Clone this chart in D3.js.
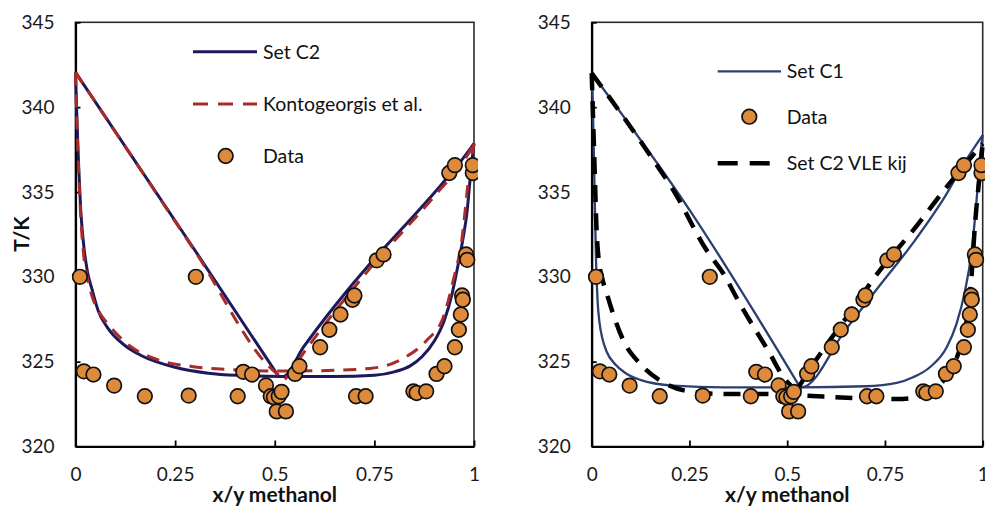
<!DOCTYPE html>
<html>
<head>
<meta charset="utf-8">
<script src="https://cdn.jsdelivr.net/npm/d3@7"></script>
<style>
  html, body { margin: 0; padding: 0; background: #fff; }
  svg { display: block; font-family: Lato, "Open Sans", sans-serif; }
</style>
</head>
<body>
<svg id="chart" width="985" height="506"></svg>
<script>
// ---------- data ----------
const xTicks = [0, 0.25, 0.5, 0.75, 1];
const xTickLabels = ["0", "0.25", "0.5", "0.75", "1"];
const yTicks = [320, 325, 330, 335, 340, 345];
const yTickLabels = ["320", "325", "330", "335", "340", "345"];
const xTitle = "x/y methanol";
const yTitle = "T/K";

// experimental data [x or y methanol, T/K]
const expData = [
  [0.011,330.0],[0.021,324.43],[0.045,324.24],[0.097,323.59],[0.174,322.96],[0.284,323.0],
  [0.302,330.0],[0.407,322.96],[0.421,324.4],[0.443,324.24],[0.478,323.6],[0.490,322.96],
  [0.498,322.9],[0.505,322.07],[0.510,322.96],[0.517,323.22],[0.528,322.07],[0.551,324.28],
  [0.562,324.73],[0.614,325.85],[0.637,326.88],[0.665,327.78],[0.695,328.65],[0.700,328.9],
  [0.704,322.96],[0.728,322.96],[0.756,330.97],[0.773,331.32],[0.848,323.25],[0.856,323.15],
  [0.880,323.25],[0.906,324.28],[0.926,324.73],[0.938,336.12],[0.952,336.58],[0.952,325.85],
  [0.962,326.88],[0.967,327.78],[0.970,328.9],[0.972,328.65],[0.980,331.32],[0.983,331.0],
  [0.997,336.12],[0.997,336.58]
];

// Left panel: Set C2
const setC2Lower = [
  [0,342.05],[0.004,339.0],[0.008,336.5],[0.013,334.0],[0.02,332.0],[0.03,330.3],[0.041,329.3],
  [0.057,328.0],[0.082,326.95],[0.124,325.95],[0.166,325.35],[0.25,324.67],[0.333,324.32],
  [0.417,324.18],[0.517,324.12],[0.65,324.12],[0.75,324.2],[0.80,324.4],[0.84,324.75],
  [0.87,325.3],[0.90,326.2],[0.925,327.4],[0.945,329.0],[0.96,330.7],[0.972,332.2],
  [0.982,333.72],[0.990,335.69],[0.998,337.46],[1,337.85]
];
const setC2Vapor = [
  [0,342.05],[0.30,331.55],[0.51,324.12],[0.521,324.12],[0.572,325.85],[0.655,328.41],
  [0.739,330.77],[0.823,332.93],[0.906,335.1],[0.982,337.27],[1,337.85]
];
// Left panel: Kontogeorgis et al.
const kontoLower = [
  [0,342.05],[0.004,338.8],[0.008,336.2],[0.013,333.6],[0.02,331.4],[0.03,329.9],[0.041,328.9],
  [0.06,327.9],[0.082,327.2],[0.141,325.85],[0.208,325.1],[0.292,324.72],[0.375,324.55],
  [0.5,324.45],[0.613,324.47],[0.739,324.6],[0.823,325.2],[0.881,326.25],[0.923,327.62],
  [0.948,329.79],[0.969,332.1],[0.988,336.08],[1,337.85]
];
const kontoVapor = [
  [0,342.05],[0.30,331.5],[0.5,324.4],[0.526,323.95],[0.572,325.5],[0.739,330.5],
  [0.906,334.9],[0.982,337.1],[1,337.85]
];

// Right panel: Set C1
const setC1Lower = [
  [0,342.0],[0.003,340.0],[0.007,335.5],[0.011,331.0],[0.015,328.6],[0.02,327.3],[0.027,326.4],
  [0.038,325.6],[0.06,324.85],[0.085,324.35],[0.124,323.93],[0.209,323.59],[0.337,323.49],
  [0.533,323.49],[0.7,323.55],[0.78,323.75],[0.822,324.08],[0.865,324.67],[0.908,325.85],
  [0.933,327.23],[0.955,329.2],[0.972,331.56],[0.985,334.7],[0.993,337.0],[1,338.35]
];
const setC1Vapor = [
  [0,342.0],[0.25,333.95],[0.533,323.49],
  [0.537,323.49],[0.65,326.9],[0.737,329.5],[0.822,332.0],[0.908,334.9],[0.95,336.6],[1,338.35]
];
// Right panel: Set C2 VLE kij
const setC2kijLower = [
  [0,342.0],[0.004,339.0],[0.008,336.0],[0.012,333.0],[0.018,331.0],[0.026,330.0],[0.04,328.9],
  [0.055,327.8],[0.081,326.25],[0.124,324.87],[0.183,323.78],[0.251,323.24],[0.337,323.1],
  [0.439,323.1],[0.5,323.05],[0.592,322.94],[0.78,322.8],[0.831,322.9],[0.87,323.2],
  [0.9,323.9],[0.925,324.8],[0.945,326.0],[0.96,327.6],[0.972,330.2],[0.98,333.0],
  [0.99,335.5],[1,337.8]
];
const setC2kijVapor = [
  [0,342.0],[0.081,339.43],[0.158,336.87],[0.209,335.1],[0.294,331.56],[0.337,330.18],
  [0.379,328.41],[0.456,325.46],[0.49,324.1],[0.524,323.3],[0.567,324.87],[0.652,327.62],
  [0.737,330.38],[0.822,332.74],[0.908,335.3],[0.993,337.66],[1,337.85]
];

const leftLegend = ["Set C2", "Kontogeorgis et al.", "Data"];
const rightLegend = ["Set C1", "Data", "Set C2 VLE kij"];

// ---------- drawing ----------
const svg = d3.select("#chart");
const yScale = d3.scaleLinear().domain([320, 345]).range([446.5, 22.3]);
const orange = "#DD8A3B";

// split a vapour curve at its minimum (azeotrope) so the kink stays sharp
function splitAtMin(arr) {
  let iMin = 0;
  arr.forEach((d, i) => { if (d[1] < arr[iMin][1]) iMin = i; });
  return [arr.slice(0, iMin + 1), arr.slice(iMin)];
}

function panel(x0, x1, cfg) {
  const xScale = d3.scaleLinear().domain([0, 1]).range([x0, x1]);
  const g = svg.append("g");
  const clipId = "clip" + Math.round(x0);
  svg.append("clipPath").attr("id", clipId).append("rect")
    .attr("x", x0 - 4).attr("y", 10).attr("width", x1 - x0 + 8).attr("height", 446.5 - 6);

  // frame
  g.append("rect").attr("x", x0).attr("y", yScale(345)).attr("width", x1 - x0)
    .attr("height", yScale(320) - yScale(345)).attr("fill", "none")
    .attr("stroke", "#2a2a2a").attr("stroke-width", 1.6);

  // axes
  const xAxis = d3.axisBottom(xScale).tickValues(xTicks)
    .tickFormat((d, i) => xTickLabels[i]).tickSizeInner(-6).tickSizeOuter(0).tickPadding(21);
  const yAxis = d3.axisLeft(yScale).tickValues(yTicks)
    .tickFormat((d, i) => yTickLabels[i]).tickSizeInner(-5).tickSizeOuter(0).tickPadding(21);
  const gx = g.append("g").attr("transform", `translate(0,${yScale(320)})`).call(xAxis);
  const gy = g.append("g").attr("transform", `translate(${x0},0)`).call(yAxis);
  [gx, gy].forEach(a => {
    a.select(".domain").attr("stroke", "#000").attr("stroke-width", 2.2);
    a.selectAll(".tick line").attr("stroke", "#000").attr("stroke-width", 1.8);
    a.selectAll(".tick text").attr("fill", "#1a1a1a").style("font-size", "19px")
      .style("font-family", "Lato, 'Open Sans', sans-serif");
  });

  // x title
  g.append("text").attr("x", (x0 + x1) / 2).attr("y", 502).attr("text-anchor", "middle")
    .style("font-size", "21px").style("font-weight", "bold").attr("fill", "#111").text(xTitle);

  const lineSmooth = d3.line().x(d => xScale(d[0])).y(d => yScale(d[1])).curve(d3.curveMonotoneX);
  const lg = g.append("g").attr("clip-path", `url(#${clipId})`);
  cfg.series.forEach(s => {
    [s.lower, ...splitAtMin(s.vapor)].forEach(arr => {
      lg.append("path").attr("d", lineSmooth(arr)).attr("fill", "none")
        .attr("stroke", s.color).attr("stroke-width", s.width)
        .attr("stroke-dasharray", s.dash || null).attr("stroke-linejoin", "round");
    });
  });
  // markers
  lg.selectAll("circle.pt").data(expData).enter().append("circle").attr("class", "pt")
    .attr("cx", d => xScale(d[0])).attr("cy", d => yScale(d[1])).attr("r", 7.3)
    .attr("fill", orange).attr("stroke", "#111").attr("stroke-width", 1.7);

  // legend
  cfg.legend.forEach(item => {
    if (item.type === "line") {
      g.append("line").attr("x1", item.lx0).attr("x2", item.lx1).attr("y1", item.y).attr("y2", item.y)
        .attr("stroke", item.color).attr("stroke-width", item.width)
        .attr("stroke-dasharray", item.dash || null);
    } else {
      g.append("circle").attr("cx", item.mx).attr("cy", item.y).attr("r", 7.3)
        .attr("fill", orange).attr("stroke", "#111").attr("stroke-width", 1.7);
    }
    g.append("text").attr("x", item.tx).attr("y", item.y).attr("dy", "0.35em")
      .style("font-size", "19.5px").attr("fill", "#111").text(item.label);
  });
}

panel(75.5, 474, {
  series: [
    { lower: setC2Lower, vapor: setC2Vapor, color: "#1c1a5c", width: 3 },
    { lower: kontoLower, vapor: kontoVapor, color: "#a82a2a", width: 3, dash: "13,9" }
  ],
  legend: [
    { type: "line", label: leftLegend[0], lx0: 193, lx1: 257, y: 51.7, tx: 263, color: "#1c1a5c", width: 3 },
    { type: "line", label: leftLegend[1], lx0: 193, lx1: 257, y: 104, tx: 263, color: "#a82a2a", width: 3, dash: "15,10" },
    { type: "marker", label: leftLegend[2], mx: 225.7, y: 156, tx: 263 }
  ]
});

panel(591.7, 982.7, {
  series: [
    { lower: setC1Lower, vapor: setC1Vapor, color: "#2c3f72", width: 2.3 },
    { lower: setC2kijLower, vapor: setC2kijVapor, color: "#000", width: 4.5, dash: "17,11" }
  ],
  legend: [
    { type: "line", label: rightLegend[0], lx0: 717.7, lx1: 781, y: 71.3, tx: 786.7, color: "#2c3f72", width: 2.3 },
    { type: "marker", label: rightLegend[1], mx: 749.3, y: 116.7, tx: 786.7 },
    { type: "line", label: rightLegend[2], lx0: 717.7, lx1: 781, y: 163.3, tx: 786.7, color: "#000", width: 4.5, dash: "20,12" }
  ]
});

// y title (left panel only)
svg.append("text").attr("transform", "translate(29,234) rotate(-90)").attr("text-anchor", "middle")
  .style("font-size", "21px").style("font-weight", "bold").attr("fill", "#111").text(yTitle);
</script>
</body>
</html>
